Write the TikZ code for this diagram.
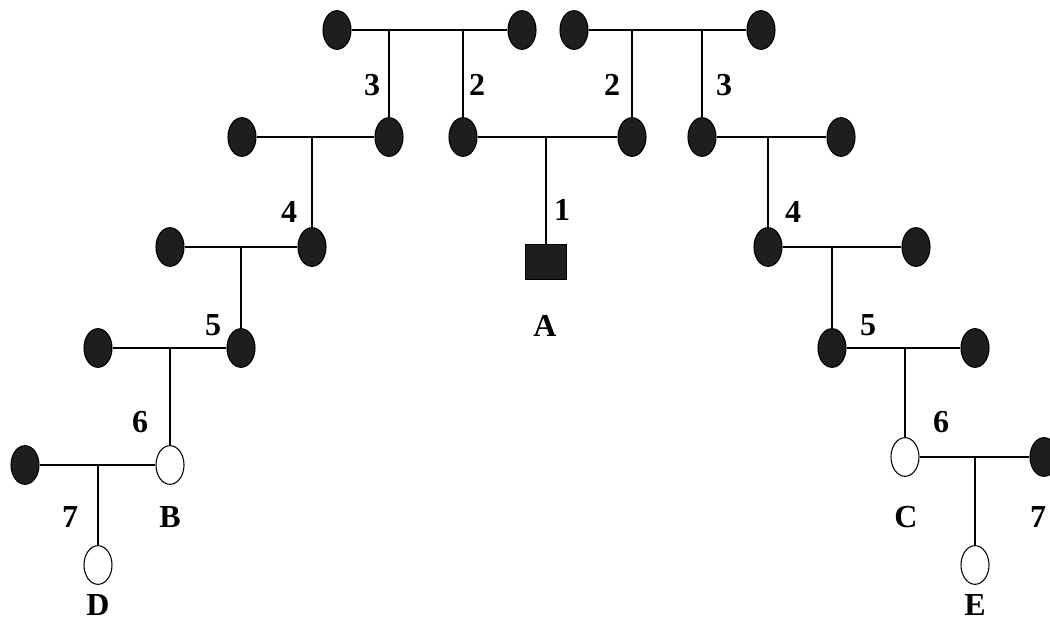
\documentclass[tikz,border=0pt]{standalone}
\usepackage{fontspec}
\setmainfont{Liberation Serif}
\usetikzlibrary{shapes.geometric}
\definecolor{affected}{HTML}{1E1E1E}

\begin{document}
\begin{tikzpicture}[
  x=0.75pt, y=-0.75pt,
  person/.style={ellipse, draw, line width=0.8pt, inner sep=0pt, minimum width=21pt, minimum height=29pt, fill=#1},
  person/.default=affected,
  proband/.style={rectangle, draw, fill=affected, inner sep=0pt, minimum width=31pt, minimum height=26pt},
  gen/.style={font=\fontsize{24}{28}\selectfont\bfseries, inner sep=0pt},
  link/.style={line width=1.4pt}
]
\useasboundingbox (0,0) rectangle (1050,623);

% top couples
\node[person] (gpL1) at (337,30) {};
\node[person] (gpL2) at (522,30) {};
\node[person] (gpR1) at (574,30) {};
\node[person] (gpR2) at (761,30) {};
\draw[link] (gpL1) -- (gpL2);
\draw[link] (gpR1) -- (gpR2);

% parents of A and their siblings
\node[person] (auL) at (389,137) {};
\node[person] (fa) at (463,137) {};
\node[person] (mo) at (632,137) {};
\node[person] (auR) at (702,137) {};
\node[person] (spL2) at (242,137) {};
\node[person] (spR2) at (841,137) {};

\draw[link] (auL |- gpL1) -- (auL);
\draw[link] (fa |- gpL1) -- (fa);
\draw[link] (mo |- gpR1) -- (mo);
\draw[link] (auR |- gpR1) -- (auR);
\draw[link] (spL2) -- (auL);
\draw[link] (fa) -- (mo);
\draw[link] (auR) -- (spR2);

\node[gen] (n3L) at (372,85) {3};
\node[gen] (n2L) at (477,85) {2};
\node[gen] (n2R) at (612,85) {2};
\node[gen] (n3R) at (724,85) {3};

% proband A
\node[proband] (A) at (546,262) {};
\draw[link] (A |- fa) -- (A);
\node[gen] (n1) at (562,210) {1};
\node[gen] (labA) at (545,326) {A};

% generation 4
\node[person] (cL4) at (312,247) {};
\node[person] (spL4) at (170,247) {};
\node[person] (cR4) at (768,247) {};
\node[person] (spR4) at (916,247) {};
\draw[link] (cL4 |- spL2) -- (cL4);
\draw[link] (cR4 |- spR2) -- (cR4);
\draw[link] (spL4) -- (cL4);
\draw[link] (cR4) -- (spR4);
\node[gen] (n4L) at (289,212) {4};
\node[gen] (n4R) at (793,212) {4};

% generation 5
\node[person] (cL5) at (241,348) {};
\node[person] (spL5) at (98,348) {};
\node[person] (cR5) at (832,348) {};
\node[person] (spR5) at (975,348) {};
\draw[link] (cL5 |- spL4) -- (cL5);
\draw[link] (cR5 |- spR4) -- (cR5);
\draw[link] (spL5) -- (cL5);
\draw[link] (cR5) -- (spR5);
\node[gen] (n5L) at (213,325) {5};
\node[gen] (n5R) at (868,325) {5};

% generation 6 (B and C)
\node[person=white] (B) at (170,465) {};
\node[person] (spB) at (25,465) {};
\node[person=white] (C) at (905,457) {};
\node[person] (spC) at (1044,457) {};
\draw[link] (B |- spL5) -- (B);
\draw[link] (C |- spR5) -- (C);
\draw[link] (spB) -- (B);
\draw[link] (C) -- (spC);
\node[gen] (n6L) at (140,422) {6};
\node[gen] (n6R) at (941,422) {6};
\node[gen] (labB) at (170,517) {B};
\node[gen] (labC) at (906,517) {C};

% generation 7 (D and E)
\node[person=white] (D) at (98,565) {};
\node[person=white] (E) at (975,565) {};
\draw[link] (D |- spB) -- (D);
\draw[link] (E |- spC) -- (E);
\node[gen] (n7L) at (70,517) {7};
\node[gen] (n7R) at (1038,517) {7};
\node[gen] (labD) at (98,605) {D};
\node[gen] (labE) at (975,605) {E};

\end{tikzpicture}
\end{document}
